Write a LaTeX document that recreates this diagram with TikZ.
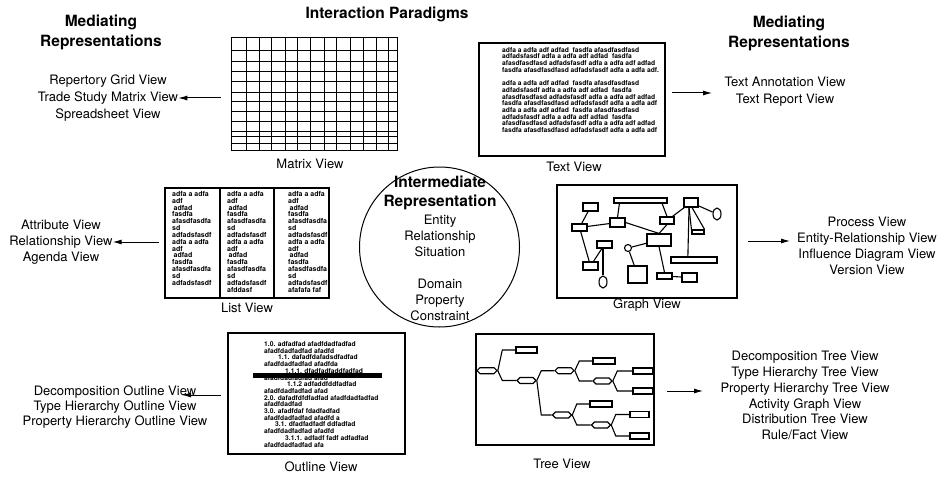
\documentclass[tikz,border=0pt]{standalone}
\usepackage{fontspec}
\setmainfont{TeX Gyre Heros}
\usetikzlibrary{arrows.meta,shapes.symbols,shapes.misc,shapes.geometric,calc}

\tikzset{
  lbl/.style={font=\fontsize{13}{16}\selectfont, align=center, inner sep=0pt},
  ttl/.style={font=\fontsize{15.5}{20}\selectfont\bfseries, align=center, inner sep=0pt},
  tiny/.style={font=\fontsize{6.7}{6.7}\selectfont\bfseries, align=left, inner sep=0pt, anchor=north west},
  viewbox/.style={draw, line width=2.6pt, rectangle, inner sep=0pt},
  arr/.style={line width=1pt, -{Latex[length=9pt,width=5pt]}},
  gbox/.style={draw, line width=1.1pt, rectangle, inner sep=0pt},
  gdot/.style={draw, line width=1.1pt, ellipse, inner sep=0pt},
  gline/.style={line width=1.1pt},
  tnode/.style={draw, line width=1.1pt, signal, signal to=east and west, minimum width=19pt, minimum height=6pt, inner sep=0pt},
  tleaf/.style={draw, line width=1.1pt, chamfered rectangle, chamfered rectangle corners=north east, chamfered rectangle xsep=2pt, chamfered rectangle ysep=2pt, minimum width=20pt, minimum height=6pt, inner sep=0pt},
}
\newcommand\tbranch[2]{\draw[gline] (#1.east) -- ($(#1.east |- #2.west)+(4.5pt,0)$) -- (#2.west);}

\begin{document}
\begin{tikzpicture}[x=1pt,y=-1pt]
\useasboundingbox (0,0) rectangle (941,476);
\fill[white] (0,0) rectangle (941,476);

% ---------- headings ----------
\node[ttl] (hInter) at (387,14) {Interaction Paradigms};
\node[ttl] (hMedL) at (101,32) {Mediating\\Representations};
\node[ttl] (hMedR) at (789,33) {Mediating\\Representations};

% ---------- matrix view ----------
\node[draw, line width=1pt, rectangle, inner sep=0pt, minimum width=166.3pt, minimum height=113.4pt] (mtx) at (314.15,94) {};
\foreach \gx in {246,259.3,271.7,285,297.7,310.7,324,336.7,350,363.3,376,388.3}
  \draw[line width=1pt] (\gx,37.3) -- (\gx,150.7);
\foreach \gy in {50.7,61.7,71.7,81.7,92.3,101.7,111.7,121.7,131,136.7,143.3}
  \draw[line width=1pt] (231,\gy) -- (397.3,\gy);
\node[lbl] (mtxCap) at (310,164) {Matrix View};
\node[lbl, font=\fontsize{13}{17}\selectfont] (mtxRep) at (108,98) {Repertory Grid View\\Trade Study Matrix View\\Spreadsheet View};
\coordinate (mtxTail) at (221,98);
\draw[arr] (mtxTail) -- (mtxRep.east |- mtxTail);

% ---------- text view ----------
\node[viewbox, minimum width=186pt, minimum height=113pt] (txt) at (572,99.5) {};
\node[tiny] (txtBody) at (502,47.2) {adfa a adfa adf adfad\ \ fasdfa afasdfasdfasd\\
adfadsfasdf adfa a adfa adf adfad\ \ fasdfa\\
afasdfasdfasd adfadsfasdf adfa a adfa adf adfad\\
fasdfa afasdfasdfasd adfadsfasdf adfa a adfa adf.\\[6.6pt]
adfa a adfa adf adfad\ \ fasdfa afasdfasdfasd\\
adfadsfasdf adfa a adfa adf adfad\ \ fasdfa\\
afasdfasdfasd adfadsfasdf adfa a adfa adf adfad\\
fasdfa afasdfasdfasd adfadsfasdf adfa a adfa adf\\
adfa a adfa adf adfad\ \ fasdfa afasdfasdfasd\\
adfadsfasdf adfa a adfa adf adfad\ \ fasdfa\\
afasdfasdfasd adfadsfasdf adfa a adfa adf adfad\\
fasdfa afasdfasdfasd adfadsfasdf adfa a adfa adf};
\node[lbl] (txtCap) at (574,167) {Text View};
\node[lbl, font=\fontsize{13}{17}\selectfont] (txtRep) at (785,92) {Text Annotation View\\Text Report View};
\coordinate (txtTail) at (672,93);
\draw[arr] (txtTail) -- (712,93) coordinate (txtHead);

% ---------- list view ----------
\node[draw, line width=1.5pt, rectangle, inner sep=0pt, minimum width=164pt, minimum height=110pt] (lst) at (247,243) {};
\draw[line width=1.5pt] (220,188) -- (220,298);
\draw[line width=1.5pt] (274,188) -- (274,298);
\tikzset{lcol/.style={tiny, font=\fontsize{7}{6.85}\selectfont\bfseries}}
\node[lcol] (lstA) at (172,191) {adfa a adfa\\adf\\\hspace*{1.5pt}adfad\\fasdfa\\afasdfasdfa\\sd\\adfadsfasdf\\adfa a adfa\\adf\\\hspace*{1.5pt}adfad\\fasdfa\\afasdfasdfa\\sd\\adfadsfasdf};
\node[lcol] (lstB) at (227,191) {adfa a adfa\\adf\\\hspace*{1.5pt}adfad\\fasdfa\\afasdfasdfa\\sd\\adfadsfasdf\\adfa a adfa\\adf\\\hspace*{1.5pt}adfad\\fasdfa\\afasdfasdfa\\sd\\adfadsfasdf\\afddasf};
\node[lcol] (lstC) at (288,191) {adfa a adfa\\adf\\\hspace*{1.5pt}adfad\\fasdfa\\afasdfasdfa\\sd\\adfadsfasdf\\adfa a adfa\\adf\\\hspace*{1.5pt}adfad\\fasdfa\\afasdfasdfa\\sd\\adfadsfasdf\\afafafa faf};
\node[lbl] (lstCap) at (247,308) {List View};
\node[lbl] (lstRep) at (61,242) {Attribute View\\Relationship View\\Agenda View};
\coordinate (lstTail) at (159,242);
\draw[arr] (lstTail) -- (lstRep.east |- lstTail);

% ---------- intermediate representation ----------
\node[draw, circle, line width=1pt, minimum size=160pt, inner sep=0pt] (irep) at (439.5,247) {};
\node[ttl, font=\fontsize{15.5}{19}\selectfont\bfseries] (irepT) at (440,192.5) {Intermediate\\Representation};
\node[lbl] (irepB) at (440,268) {Entity\\Relationship\\Situation\\[16pt]Domain\\Property\\Constraint};

% ---------- graph view ----------
\node[viewbox, minimum width=180pt, minimum height=113pt] (grf) at (647,241.5) {};
\node[gbox, minimum width=15pt, minimum height=8pt] (gA) at (590.5,207) {};
\node[gbox, minimum width=53pt, minimum height=5pt] (gB) at (640.5,200.5) {};
\node[gbox, minimum width=14pt, minimum height=9pt] (gC) at (691,202.5) {};
\node[gdot, minimum width=8pt, minimum height=12pt] (gD) at (717,214) {};
\node[gbox, minimum width=15pt, minimum height=7pt] (gE) at (579.5,227.5) {};
\node[gbox, minimum width=15pt, minimum height=9pt] (gF) at (617.5,222.5) {};
\node[gbox, minimum width=14pt, minimum height=7pt] (gG) at (667,220.5) {};
\node[gbox, minimum width=12pt, minimum height=4pt] (gH) at (698,232) {};
\node[gbox, minimum width=15pt, minimum height=7pt] (gI) at (604.5,244.5) {};
\node[gbox, minimum width=24pt, minimum height=12pt] (gJ) at (659,240) {};
\node[gdot, minimum width=7pt, minimum height=7pt] (gK) at (628,248) {};
\node[gbox, minimum width=46pt, minimum height=6pt] (gL) at (694,260) {};
\node[gbox, minimum width=15pt, minimum height=8pt] (gM) at (590.5,266) {};
\node[gbox, minimum width=19pt, minimum height=17pt] (gN) at (637.5,274.5) {};
\node[gbox, minimum width=15pt, minimum height=6pt] (gO) at (664.5,276) {};
\node[gbox, minimum width=15pt, minimum height=9pt] (gP) at (689.5,277.5) {};
\node[gdot, minimum width=8pt, minimum height=12pt] (gQ) at (603,282) {};
\draw[gline] (gA) -- (gE);
\draw[gline] (gE) -- (gF);
\draw[gline] (gF.north) -- ($(gB.south west)!0.11!(gB.south east)$);
\draw[gline] ($(gB.south west)!0.9!(gB.south east)$) -- (gG.north);
\draw[gline] (gF.east) -- (gJ.north);
\draw[gline] (gG.south) -- (gJ.north);
\draw[gline] (gG) -- (gC);
\draw[gline] (gC) -- (gD);
\draw[gline] ([xshift=-2pt]gC.south) -- (gH.north west);
\draw[gline] ([xshift=1pt]gC.south) -- (gH.north east);
\draw[gline] ([xshift=-2pt]gC.south) -- ($(gL.north west)!0.37!(gL.north east)$);
\draw[gline] (gE) -- (gM);
\draw[gline] (gI) -- (gM);
\draw[gline] (gQ.north) -- (gQ.north |- gI.south);
\draw[gline] (gK) -- (gJ);
\draw[gline] (gK) -- (gN);
\draw[gline] (gJ.south) -- (gO.north);
\draw[gline] (gO) -- (gP);
\node[lbl] (grfCap) at (647,305) {Graph View};
\node[lbl] (grfRep) at (867,246) {Process View\\Entity-Relationship View\\Influence Diagram View\\Version View};
\coordinate (grfTail) at (748,241);
\draw[arr] (grfTail) -- (790,241) coordinate (grfHead);

% ---------- outline view ----------
\node[viewbox, minimum width=177pt, minimum height=121pt] (otl) at (316.5,393.5) {};
\node[tiny] (otlBody) at (264,341.5) {1.0. adfadfad afadfdadfadfad\\
afadfdadfadfad afadfd\\
\hspace*{14pt}1.1. dafadfdafadsdfadfad\\
afadfdadfadfad afadfda\\
\hspace*{21pt}1.1.1. dfadfadfaddfadfad\\
afadfdadfadfad afad\\
\hspace*{23pt}1.1.2 adfaddfddfadfad\\
afadfdadfadfad afad\\
2.0. dafadfdfdfadfad afadfdadfadfad\\
afadfdadfad\\
3.0. afadfdaf fdadfadfad\\
afadfdadfadfad afadfd a\\
\hspace*{11pt}3.1. dfadfadfadf ddfadfad\\
afadfdadfadfad afadfd\\
\hspace*{21pt}3.1.1. adfadf fadf adfadfad\\
afadfdadfadfad afa};
\fill (253,373) rectangle (382,378);
\node[lbl] (otlCap) at (321,467) {Outline View};
\node[lbl, font=\fontsize{13}{15}\selectfont] (otlRep) at (115,407) {Decomposition Outline View\\Type Hierarchy Outline View\\Property Hierarchy Outline View};
\coordinate (otlTail) at (221,395);
\draw[arr] (otlTail) -- (182,395) coordinate (otlHead);

% ---------- tree view ----------
\node[viewbox, minimum width=178pt, minimum height=111pt] (tre) at (565,389.5) {};
\node[tnode, minimum width=20pt] (t0) at (487,370.7) {};
\node[tleaf, minimum width=21pt] (l1) at (526.5,350) {};
\node[tnode] (t2) at (526.5,380.5) {};
\node[tnode] (t3) at (564.5,370.7) {};
\node[tnode] (t4) at (562,415) {};
\node[tleaf, minimum width=22pt] (l2) at (604,361) {};
\node[tnode] (t5) at (602.5,381) {};
\node[tleaf] (l3) at (643,371) {};
\node[tleaf] (l4) at (643,391) {};
\node[tleaf, minimum width=22pt] (l5) at (601,404) {};
\node[tnode] (t6) at (601,425) {};
\node[tleaf, minimum width=19pt] (l6) at (639.5,414.5) {};
\node[tleaf, minimum width=19pt] (l7) at (639.5,436) {};
\tbranch{t0}{l1}
\tbranch{t0}{t2}
\tbranch{t2}{t3}
\tbranch{t2}{t4}
\tbranch{t3}{l2}
\tbranch{t3}{t5}
\tbranch{t5}{l3}
\tbranch{t5}{l4}
\tbranch{t4}{l5}
\tbranch{t4}{t6}
\tbranch{t6}{l6}
\tbranch{t6}{l7}
\node[lbl] (treCap) at (562,464) {Tree View};
\node[lbl, font=\fontsize{13}{15.8}\selectfont] (treRep) at (805,395.5) {Decomposition Tree View\\Type Hierarchy Tree View\\Property Hierarchy Tree View\\Activity Graph View\\Distribution Tree View\\Rule/Fact View};
\coordinate (treTail) at (667,391);
\draw[arr] (treTail) -- (703,391) coordinate (treHead);
\end{tikzpicture}
\end{document}
